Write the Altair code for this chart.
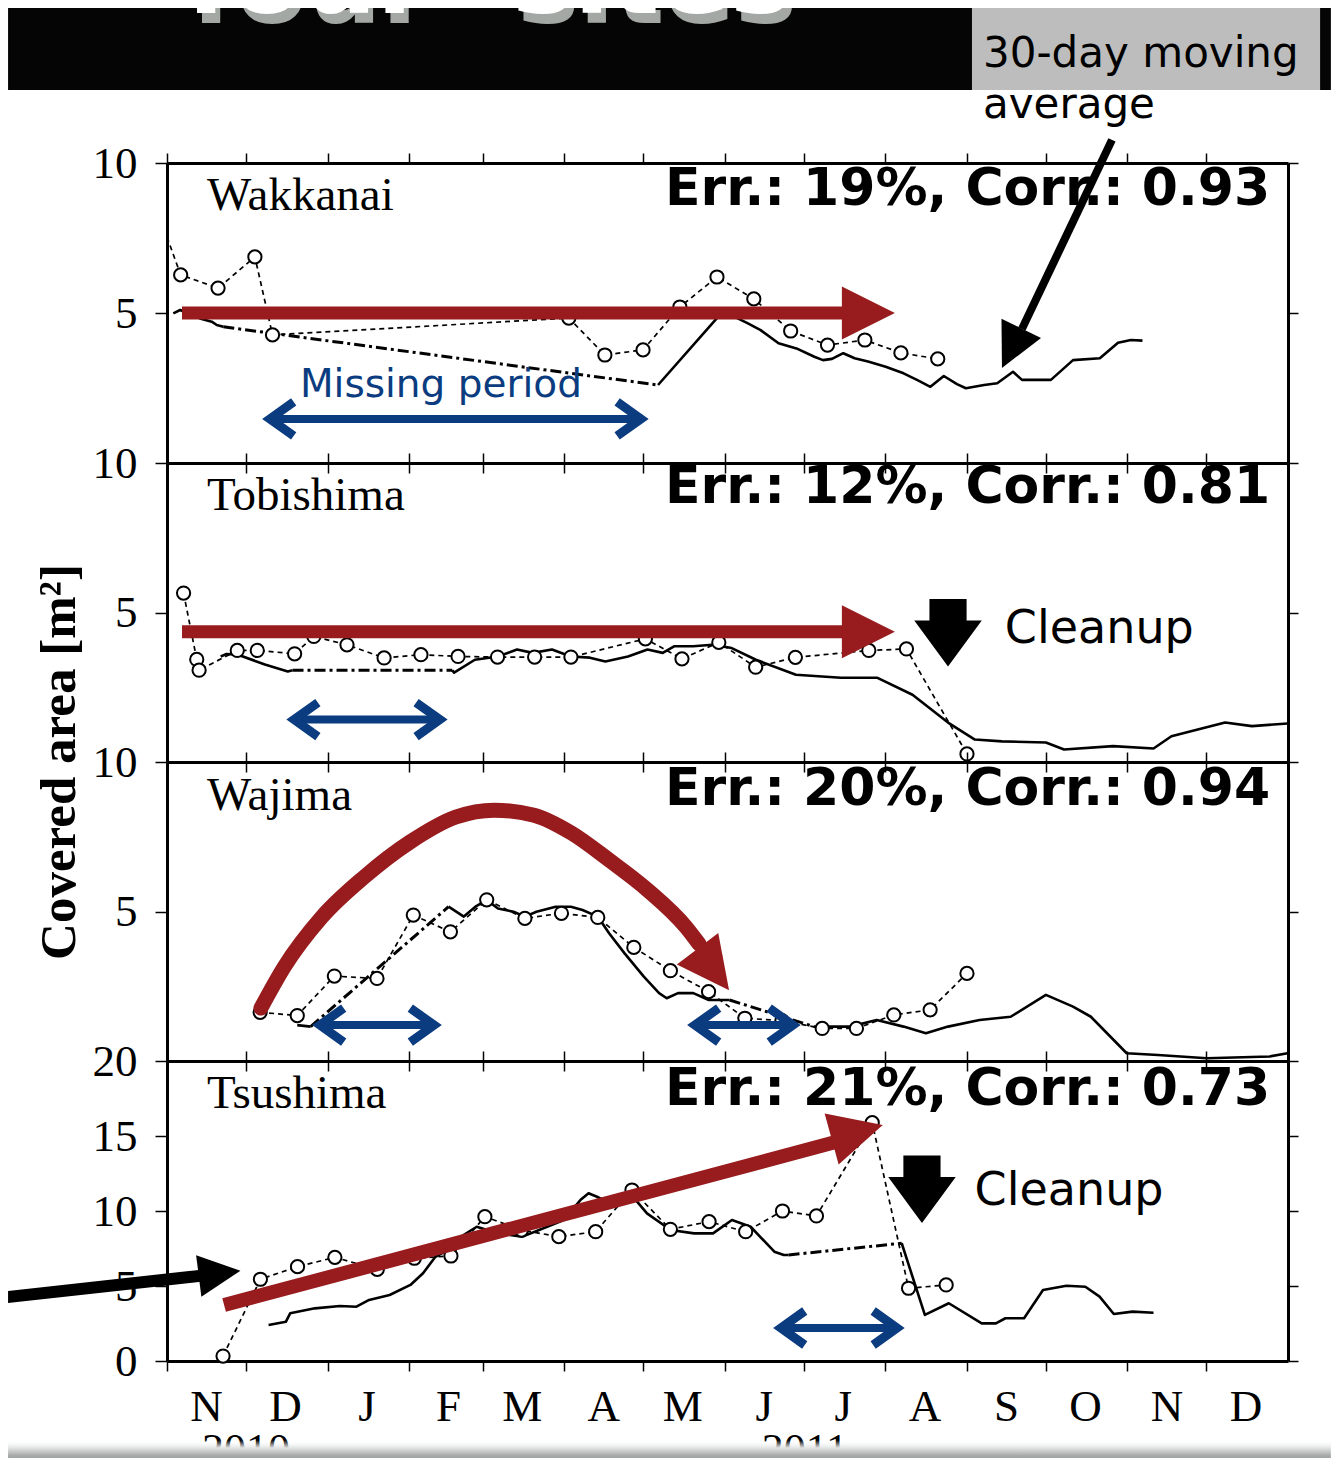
import altair as alt
import pandas as pd

# ------------------------------------------------------------------
# x positions are given as days after 2010-11-01
# ------------------------------------------------------------------
BASE = pd.Timestamp("2010-11-01")


def when(day):
    return (BASE + pd.Timedelta(days=float(day))).round("min").isoformat()


X_DOMAIN = [alt.DateTime(year=2010, month=11, date=1), alt.DateTime(year=2012, month=1, date=1)]
MONTH_TICKS = [alt.DateTime(year=2010 + (10 + i) // 12, month=(10 + i) % 12 + 1, date=1) for i in range(14)]

PANEL_W = 1121
PANEL_H = [300, 299, 299, 300]
HEADER_H = 155

SERIF = "Liberation Serif"
HAND = "DejaVu Sans"
RED = "#981b1e"
BLUE = "#0b3c80"

# ---------------- Wakkanai ----------------
WAK_OBS_DAYS = [5.2, 19.4, 33.4, 40.1, 152.7, 166.4, 180.9, 194.9, 209.0, 223.0, 237.0, 251.0, 265.2, 278.9, 292.9]
WAK_OBS_VALS = [6.27, 5.83, 6.87, 4.27, 4.83, 3.60, 3.77, 5.20, 6.20, 5.47, 4.40, 3.93, 4.10, 3.67, 3.47]
WAK_OBS_LEAD = [(0.0, 7.53)]
WAK_MODEL = [
    ("solid", [2.4, 5.0, 12.5, 17.0, 18.9, 21.4], [4.99, 5.10, 4.82, 4.71, 4.60, 4.54]),
    ("dashdot", [21.4, 186.6], [4.54, 2.60]),
    ("solid",
     [186.6, 209.5, 215.5, 220.4, 225.6, 232.4, 239.2, 246.0, 249.3, 252.7, 257.0, 261.3, 266.4, 273.1, 279.9,
      285.0, 290.1, 295.2, 300.2, 303.6, 310.5, 315.5, 321.5, 324.9, 335.9, 344.3, 354.5, 361.4, 366.3, 370.7],
     [2.60, 4.88, 4.88, 4.67, 4.43, 3.99, 3.82, 3.54, 3.43, 3.47, 3.66, 3.49, 3.38, 3.21, 2.99,
      2.77, 2.54, 2.90, 2.63, 2.49, 2.60, 2.66, 3.04, 2.77, 2.77, 3.43, 3.49, 4.01, 4.10, 4.08]),
]

# ---------------- Tobishima ----------------
TOB_OBS_DAYS = [6.3, 11.3, 12.2, 26.7, 34.3, 48.5, 55.8, 68.4, 82.5, 96.5, 110.6, 125.6, 139.7, 153.5, 181.8,
                195.7, 209.7, 223.7, 238.8, 266.7, 281.0, 304.0]
TOB_OBS_VALS = [5.65, 3.43, 3.07, 3.73, 3.73, 3.62, 4.20, 3.92, 3.48, 3.59, 3.53, 3.51, 3.51, 3.51, 4.12,
                3.45, 4.00, 3.17, 3.50, 3.73, 3.78, 0.27]
TOB_MODEL = [
    ("solid", [20.4, 22.6, 27.0, 37.2, 45.9, 47.7], [3.53, 3.61, 3.59, 3.26, 3.03, 3.07]),
    ("dashdot", [47.7, 108.4], [3.07, 3.07]),
    ("solid",
     [108.4, 109.1, 117.0, 125.8, 133.0, 139.0, 146.3, 153.5, 160.7, 166.6, 175.2, 182.6, 188.4, 192.7, 200.0,
      207.3, 214.6, 223.8, 239.0, 256.1, 269.8, 283.3, 296.8, 307.0, 317.3, 334.0, 340.9, 359.5, 374.9, 381.7,
      402.1, 412.3, 425.8],
     [3.07, 2.99, 3.42, 3.53, 3.76, 3.65, 3.76, 3.53, 3.49, 3.36, 3.53, 3.76, 3.65, 3.87, 3.87,
      3.92, 3.81, 3.42, 2.92, 2.82, 2.82, 2.25, 1.32, 0.75, 0.69, 0.65, 0.42, 0.53, 0.45, 0.86,
      1.32, 1.20, 1.29]),
]

# ---------------- Wajima ----------------
WAJ_OBS_DAYS = [35.4, 49.5, 63.6, 79.8, 93.6, 107.7, 121.5, 136.0, 149.9, 163.7, 177.4, 191.3, 205.8, 219.6,
                233.7, 249.0, 262.0, 276.2, 290.0, 304.0]
WAJ_OBS_VALS = [1.63, 1.52, 2.84, 2.76, 4.88, 4.32, 5.39, 4.77, 4.94, 4.80, 3.80, 3.02, 2.32, 1.43,
                1.35, 1.09, 1.09, 1.54, 1.71, 2.93]
WAJ_MODEL = [
    ("solid", [49.5, 54.6], [1.20, 1.15]),
    ("dashdot", [54.6, 107.0], [1.15, 5.16]),
    ("solid",
     [107.0, 112.8, 117.2, 121.5, 125.8, 131.7, 136.0, 140.4, 147.7, 153.5, 157.9, 163.7, 168.0, 173.9, 181.2,
      187.0, 189.9, 194.2, 200.0, 205.9, 213.8],
     [5.16, 4.83, 5.16, 5.38, 5.10, 4.99, 4.83, 4.99, 5.16, 5.16, 5.05, 4.83, 4.27, 3.60, 2.82,
      2.27, 2.10, 2.27, 2.27, 2.04, 2.04]),
    ("dashdot", [213.8, 245.9], [2.04, 1.15]),
    ("solid",
     [245.9, 259.6, 269.7, 279.9, 288.4, 296.8, 308.8, 320.6, 334.0, 344.3, 351.1, 364.7, 376.6, 395.2, 419.0,
      425.8],
     [1.15, 1.15, 1.37, 1.15, 0.93, 1.15, 1.37, 1.48, 2.21, 1.82, 1.48, 0.26, 0.20, 0.09, 0.15, 0.26]),
]

# ---------------- Tsushima ----------------
TSU_OBS_DAYS = [21.3, 35.5, 49.6, 63.8, 79.9, 94.0, 107.9, 120.8, 134.7, 148.9, 162.9, 176.7, 191.3, 206.0,
                219.9, 233.9, 246.8, 268.0, 281.8, 296.1]
TSU_OBS_VALS = [0.33, 5.45, 6.29, 6.91, 6.11, 6.85, 7.00, 9.62, 8.73, 8.29, 8.62, 11.40, 8.78, 9.29,
                8.62, 10.00, 9.67, 15.89, 4.85, 5.07]
TSU_MODEL = [
    ("solid",
     [38.6, 45.2, 46.8, 56.2, 65.7, 72.0, 76.8, 84.6, 92.5, 97.3, 102.0, 106.7, 109.8, 117.7, 125.6, 135.1,
      141.4, 150.8, 157.1, 160.2, 163.4, 168.2, 176.0, 182.4, 191.4, 200.3, 207.5, 214.7, 221.8, 230.8, 234.4,
      236.2],
     [2.40, 2.62, 3.18, 3.51, 3.67, 3.62, 4.07, 4.40, 5.07, 5.85, 6.95, 7.40, 8.07, 8.95, 8.51, 8.29,
      8.73, 9.40, 10.73, 11.18, 10.95, 10.51, 11.18, 9.84, 8.73, 8.51, 8.51, 9.40, 8.95, 7.29, 7.07,
      7.07]),
    ("dashdot", [236.2, 279.2], [7.07, 7.85]),
    ("solid",
     [279.2, 288.0, 297.1, 309.6, 315.0, 318.6, 325.7, 332.9, 341.8, 349.0, 354.4, 359.8, 366.9, 374.9],
     [7.85, 3.07, 3.85, 2.51, 2.51, 2.85, 2.85, 4.73, 5.02, 4.95, 4.29, 3.13, 3.29, 3.22]),
]

SITES = ["Wakkanai", "Tobishima", "Wajima", "Tsushima"]
ERR_TEXT = ["Err.: 19%, Corr.: 0.93", "Err.: 12%, Corr.: 0.81", "Err.: 20%, Corr.: 0.94", "Err.: 21%, Corr.: 0.73"]
Y_MAX = [10, 10, 10, 20]
Y_TICKS = [[5, 10], [5, 10], [5, 10], [0, 5, 10, 15, 20]]
SITE_LABEL_Y = [8.43, 8.43, 8.39, 16.87]
ERR_Y = [8.60, 8.66, 8.56, 17.07]
YEARS = ["2010", "2011"]
YEAR_DAYS = [30.0, 242.4]

# annotation geometry (days, values)
CURVE_DAYS = [35.7, 44.5, 58.9, 74.9, 92.3, 109.8, 124.3, 139.1, 153.6, 168.0, 182.6, 197.2, 202.2]
CURVE_VALS = [1.77, 3.14, 4.82, 6.15, 7.32, 8.16, 8.39, 8.23, 7.63, 6.72, 5.72, 4.48, 3.91]

HEAD = "M0,0L-2,-1L-2,1Z"
CHEV = "M-1.4,-1L0,0L-1.4,1"
DOWN = "M-0.404,-1.468L0.404,-1.468L0.404,-1L0.734,-1L0,0L-0.734,-1L-0.404,-1Z"


# ------------------------------------------------------------------
def enc_xy(xs, ys, xf="x", yf="y"):
    return dict(x=alt.X(f"{xf}:T", scale=xs, axis=None), y=alt.Y(f"{yf}:Q", scale=ys, axis=None))


def rule_layer(rows, xs, ys, color, width):
    df = pd.DataFrame([{"x": when(a), "y": b, "x2": when(c), "y2": d} for a, b, c, d in rows])
    return alt.Chart(df).mark_rule(color=color, strokeWidth=width).encode(
        x2="x2:T", y2="y2:Q", **enc_xy(xs, ys))


def head_layer(rows, xs, ys, color, shape):
    df = pd.DataFrame([{"x": when(d), "y": v, "ang": a, "sz": s} for d, v, a, s in rows])
    return alt.Chart(df).mark_point(shape=shape, filled=True, fill=color, strokeWidth=0, opacity=1).encode(
        angle=alt.Angle("ang:Q", scale=None), size=alt.Size("sz:Q", scale=None), **enc_xy(xs, ys))


def double_arrow(d1, d2, v, xs, ys):
    shaft = rule_layer([(d1, v, d2, v)], xs, ys, BLUE, 8)
    df = pd.DataFrame([{"x": when(d1), "y": v, "ang": 180}, {"x": when(d2), "y": v, "ang": 0}])
    chev = alt.Chart(df).mark_point(shape=CHEV, filled=False, stroke=BLUE, strokeWidth=9, fillOpacity=0,
                                    strokeJoin="miter", strokeCap="butt", size=1156, opacity=1).encode(
        angle=alt.Angle("ang:Q", scale=None), **enc_xy(xs, ys))
    return [shaft, chev]


def text_layer(rows, xs, ys, **props):
    df = pd.DataFrame([{"x": when(d), "y": v, "t": t} for d, v, t in rows])
    return alt.Chart(df).mark_text(**props).encode(text="t:N", **enc_xy(xs, ys))


def make_panel(i, obs_days, obs_vals, lead, model, extra, show_labels):
    xs = alt.Scale(domain=X_DOMAIN)
    ys = alt.Scale(domain=[0, Y_MAX[i]], nice=False, zero=False)
    rows = []
    for k, (style, ds, vs) in enumerate(model):
        for d, v in zip(ds, vs):
            rows.append({"x": when(d), "v": v, "seg": k, "style": style})
    mdf = pd.DataFrame(rows)
    x_bottom = alt.Axis(orient="bottom", values=MONTH_TICKS, tickSize=10, labels=show_labels,
                        labelExpr="substring(timeFormat(datum.value, '%b'), 0, 1)", labelOffset=39,
                        labelPadding=13, labelFlush=False, labelOverlap=False, title=None)
    x_top = alt.Axis(orient="top", values=MONTH_TICKS, tickSize=10, labels=False, title=None)
    y_left = alt.Axis(orient="left", values=Y_TICKS[i], tickSize=12, labelPadding=18, title=None)
    y_right = alt.Axis(orient="right", values=Y_TICKS[i], tickSize=10, labels=False, title=None)

    solid = alt.Chart(mdf[mdf["style"] == "solid"]).mark_line(
        color="black", strokeWidth=2.6, strokeJoin="round").encode(
        x=alt.X("x:T", scale=xs, axis=x_bottom), y=alt.Y("v:Q", scale=ys, axis=y_left), detail="seg:N")
    dashdot = alt.Chart(mdf[mdf["style"] == "dashdot"]).mark_line(
        color="black", strokeWidth=3, strokeDash=[11, 4, 3, 4]).encode(
        x=alt.X("x:T", scale=xs, axis=None), y=alt.Y("v:Q", scale=ys, axis=None), detail="seg:N")
    line_pts = lead + list(zip(obs_days, obs_vals))
    odf = pd.DataFrame([{"x": when(d), "y": v} for d, v in line_pts])
    obs_line = alt.Chart(odf).mark_line(color="black", strokeWidth=1.7, strokeDash=[5, 4]).encode(
        x=alt.X("x:T", scale=xs, axis=x_top), y=alt.Y("y:Q", scale=ys, axis=y_right))
    cdf = pd.DataFrame([{"x": when(d), "y": v} for d, v in zip(obs_days, obs_vals)])
    circles = alt.Chart(cdf).mark_point(shape="circle", filled=True, fill="white", stroke="black",
                                        strokeWidth=2, size=175, opacity=1).encode(**enc_xy(xs, ys))
    label = text_layer([(15.2, SITE_LABEL_Y[i], SITES[i])], xs, ys, font=SERIF, fontSize=47, align="left",
                       baseline="alphabetic", color="black")
    err = text_layer([(419.2, ERR_Y[i], ERR_TEXT[i])], xs, ys, font=HAND, fontSize=52, fontWeight="bold",
                     align="right", baseline="alphabetic", color="black")
    layers = [solid, dashdot, obs_line, circles, label, err] + extra(xs, ys)
    return alt.layer(*layers).properties(width=PANEL_W, height=PANEL_H[i])


def ann_wak(xs, ys):
    out = [rule_layer([(5.7, 5.0, 259.5, 5.0)], xs, ys, RED, 13),
           head_layer([(276.6, 5.0, 0, 2809)], xs, ys, RED, HEAD)]
    out += double_arrow(39.1, 180.1, 1.47, xs, ys)
    out.append(text_layer([(104.1, 2.2, "Missing period")], xs, ys, font=HAND, fontSize=39, color=BLUE,
                          align="center", baseline="alphabetic"))
    out.append(rule_layer([(359.1, 10.77, 324.9, 4.47)], xs, ys, "black", 8))
    out.append(head_layer([(317.3, 3.17, 116, 1936)], xs, ys, "black", HEAD))
    return out


def ann_tob(xs, ys):
    out = [rule_layer([(5.7, 4.36, 259.5, 4.36)], xs, ys, RED, 13),
           head_layer([(276.6, 4.36, 0, 2809)], xs, ys, RED, HEAD)]
    out += double_arrow(48.3, 103.7, 1.42, xs, ys)
    out.append(head_layer([(296.8, 3.19, 0, 8464)], xs, ys, "black", DOWN))
    out.append(text_layer([(318.4, 3.99, "Cleanup")], xs, ys, font=HAND, fontSize=46, color="black",
                          align="left", baseline="alphabetic"))
    return out


def ann_waj(xs, ys):
    cdf = pd.DataFrame([{"x": when(d), "y": v} for d, v in zip(CURVE_DAYS, CURVE_VALS)])
    curve = alt.Chart(cdf).mark_line(color=RED, strokeWidth=15, strokeCap="round", interpolate="monotone").encode(
        **enc_xy(xs, ys))
    out = [curve, head_layer([(213.6, 2.37, 52.7, 2704)], xs, ys, RED, HEAD)]
    out += double_arrow(58.1, 101.5, 1.2, xs, ys)
    out += double_arrow(200.6, 237.9, 1.2, xs, ys)
    out.append(text_layer([(-40.7, 10.0, "Covered area [m²]")], xs, ys, font=SERIF, fontSize=51,
                          fontWeight="bold", angle=270, align="center", baseline="middle", color="black"))
    return out


def ann_tsu(xs, ys):
    out = [rule_layer([(21.7, 3.73, 254.8, 14.63)], xs, ys, RED, 14),
           head_layer([(272.0, 15.73, 344.7, 2809)], xs, ys, RED, HEAD)]
    adf = pd.DataFrame([{"x": when(d), "lo": v - 0.4, "hi": v + 0.4} for d, v in [(-60.4, 4.27), (13.0, 5.69)]])
    out.append(alt.Chart(adf).mark_area(color="black", opacity=1).encode(
        x=alt.X("x:T", scale=xs, axis=None), y=alt.Y("lo:Q", scale=ys, axis=None), y2="hi:Q"))
    out.append(head_layer([(27.9, 6.02, 352.8, 1764)], xs, ys, "black", HEAD))
    out.append(head_layer([(286.9, 9.2, 0, 8464)], xs, ys, "black", DOWN))
    out.append(text_layer([(306.9, 10.4, "Cleanup")], xs, ys, font=HAND, fontSize=46, color="black",
                          align="left", baseline="alphabetic"))
    out += double_arrow(233.3, 277.4, 2.2, xs, ys)
    out.append(text_layer(list(zip(YEAR_DAYS, [-6.87, -6.87], YEARS)), xs, ys, font=SERIF, fontSize=44,
                          align="center", baseline="alphabetic", color="black"))
    grad = alt.LinearGradient(gradient="linear", x1=0, x2=0, y1=0, y2=1, stops=[
        alt.GradientStop(color="rgba(255,255,255,0)", offset=0),
        alt.GradientStop(color="#e2e4e3", offset=0.24),
        alt.GradientStop(color="#a3a7a6", offset=0.48),
        alt.GradientStop(color="#a2a6a5", offset=1)])
    bdf = pd.DataFrame([{"x": when(-60.4), "x2": when(442.3), "y": -5.27, "y2": -7.47}])
    out.append(alt.Chart(bdf).mark_rect(fill=grad, strokeWidth=0).encode(
        x2="x2:T", y2="y2:Q", **enc_xy(xs, ys)))
    return out


# ---------------- header (slide title strip) ----------------
hx = alt.Scale(domain=X_DOMAIN)
hy = alt.Scale(domain=[0, HEADER_H], reverse=True)


def hrect(d1, d2, y1, y2, color):
    df = pd.DataFrame([{"x": when(d1), "x2": when(d2), "y": y1, "y2": y2}])
    return alt.Chart(df).mark_rect(color=color, strokeWidth=0).encode(x2="x2:T", y2="y2:Q", **enc_xy(hx, hy))


header = alt.layer(
    hrect(-60.4, 442.3, 0, 82, "#050505"),
    hrect(305.9, 438.2, 0, 82, "#bdbdbd"),
    text_layer([(55.1, 15, "four"), (186.2, 15, "sites")], hx, hy, font=HAND, fontSize=104, fontWeight="bold",
               color="#a3a8a5", align="center", baseline="alphabetic", clip=True),
    text_layer([(53.2, 5, "four"), (184.3, 5, "sites")], hx, hy, font=HAND, fontSize=104, fontWeight="bold",
               color="white", align="center", baseline="alphabetic", clip=True),
    text_layer([(310.1, 59, "30-day moving"), (310.1, 110, "average")], hx, hy, font=HAND, fontSize=42,
               color="black", align="left", baseline="alphabetic"),
).properties(width=PANEL_W, height=HEADER_H)

p1 = make_panel(0, WAK_OBS_DAYS, WAK_OBS_VALS, WAK_OBS_LEAD, WAK_MODEL, ann_wak, False)
p2 = make_panel(1, TOB_OBS_DAYS, TOB_OBS_VALS, [], TOB_MODEL, ann_tob, False)
p3 = make_panel(2, WAJ_OBS_DAYS, WAJ_OBS_VALS, [], WAJ_MODEL, ann_waj, False)
p4 = make_panel(3, TSU_OBS_DAYS, TSU_OBS_VALS, [], TSU_MODEL, ann_tsu, True)

chart = alt.vconcat(header, p1, p2, p3, p4, spacing=0, bounds="flush").properties(
    padding={"left": 0, "top": 0, "right": 0, "bottom": -16},
    background="white",
).configure_view(strokeWidth=0).configure_axis(
    labelFont=SERIF, labelFontSize=45, labelColor="black", labelFontWeight="normal",
    domainColor="black", domainWidth=3, tickColor="black", tickWidth=1.5, grid=False,
)

chart.save("out.html", embed_options={"renderer": "svg", "actions": False})
